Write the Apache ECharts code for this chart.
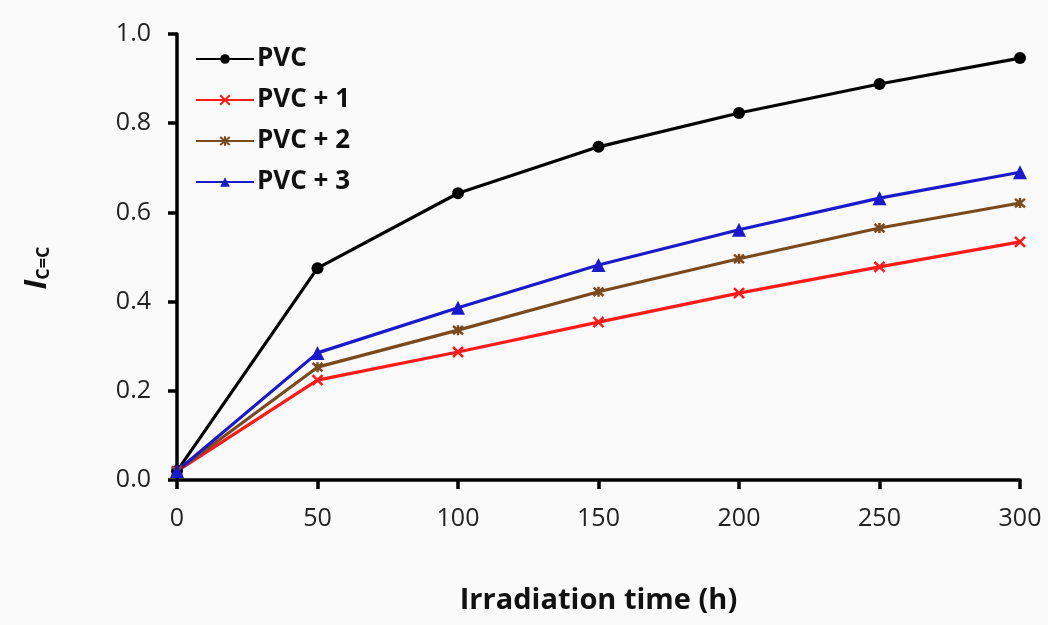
<!DOCTYPE html>
<html>
<head>
<meta charset="utf-8">
<script src="https://cdn.jsdelivr.net/npm/echarts@6/dist/echarts.min.js"></script>
<style>
  html, body { margin: 0; padding: 0; background: #fafafa; }
  #chart { width: 1048px; height: 625px; }
</style>
</head>
<body>
<div id="chart"></div>
<script>
const hours = [0, 50, 100, 150, 200, 250, 300];
const pvc   = [0.02, 0.475, 0.643, 0.747, 0.823, 0.888, 0.946];
const pvc1  = [0.02, 0.224, 0.287, 0.354, 0.419, 0.478, 0.534];
const pvc2  = [0.02, 0.253, 0.336, 0.422, 0.496, 0.565, 0.621];
const pvc3  = [0.02, 0.285, 0.386, 0.482, 0.561, 0.632, 0.690];

const FONT = '"Open Sans", "Liberation Sans", sans-serif';
const CROSS = 'path://M0,0L10,10M10,0L0,10';
const STAR = 'path://M0,0L10,10M10,0L0,10M5,-1L5,11';

function pairs(ys) {
  return hours.map((h, i) => [h, ys[i]]);
}

function line(name, ys, color, symbol, size, stroke) {
  return {
    name: name,
    type: 'line',
    data: pairs(ys),
    symbol: symbol,
    symbolSize: size,
    showAllSymbol: true,
    lineStyle: { color: color, width: 3.2 },
    itemStyle: stroke
      ? { color: 'transparent', borderColor: color, borderWidth: 2.5 }
      : { color: color, borderColor: color, borderWidth: 0 },
    emphasis: { disabled: true },
    z: 3
  };
}

const chart = echarts.init(document.getElementById('chart'));
chart.setOption({
  backgroundColor: '#fafafa',
  animation: false,
  grid: { left: 177, right: 28, top: 34, bottom: 145, outerBoundsMode: 'none', containLabel: false },
  legend: {
    orient: 'vertical',
    left: 190,
    top: 41,
    itemWidth: 58,
    itemHeight: 12,
    itemGap: 15,
    textStyle: { fontFamily: FONT, fontSize: 26, fontWeight: 'bold', color: '#111', padding: [0, 0, 0, -2] },
    data: ['PVC', 'PVC + 1', 'PVC + 2', 'PVC + 3']
  },
  xAxis: {
    type: 'value',
    min: 0,
    max: 300,
    interval: 50,
    name: 'Irradiation time (h)',
    nameLocation: 'middle',
    nameGap: 106,
    nameTextStyle: { fontFamily: FONT, fontSize: 29, fontWeight: 'bold', color: '#111' },
    axisLine: { lineStyle: { color: '#000', width: 3.5 } },
    axisTick: { show: true, length: 9, lineStyle: { color: '#000', width: 3.5 } },
    axisLabel: { fontFamily: FONT, fontSize: 25, color: '#222', margin: 26 },
    splitLine: { show: false }
  },
  yAxis: {
    type: 'value',
    min: 0,
    max: 1,
    interval: 0.2,
    name: '{i|I}{s|C=C}',
    nameLocation: 'middle',
    nameRotate: 90,
    nameGap: 124,
    nameTextStyle: {
      rich: {
        i: { fontFamily: FONT, fontSize: 31, fontWeight: 'bold', fontStyle: 'italic', color: '#111' },
        s: { fontFamily: FONT, fontSize: 18, fontWeight: 'bold', color: '#111', verticalAlign: 'bottom', padding: [12, 22, 0, 0] }
      }
    },
    axisLine: { show: true, lineStyle: { color: '#000', width: 3.5 } },
    axisTick: { show: true, length: 9, lineStyle: { color: '#000', width: 3.5 } },
    axisLabel: {
      fontFamily: FONT, fontSize: 25, color: '#222', margin: 26,
      formatter: v => v.toFixed(1)
    },
    splitLine: { show: false }
  },
  series: [
    line('PVC', pvc, '#000000', 'circle', 12, false),
    line('PVC + 1', pvc1, '#ff1a1a', CROSS, 10, true),
    line('PVC + 2', pvc2, '#7a4a1e', STAR, 10, true),
    line('PVC + 3', pvc3, '#1a1acc', 'triangle', 14, false)
  ]
});
</script>
</body>
</html>
